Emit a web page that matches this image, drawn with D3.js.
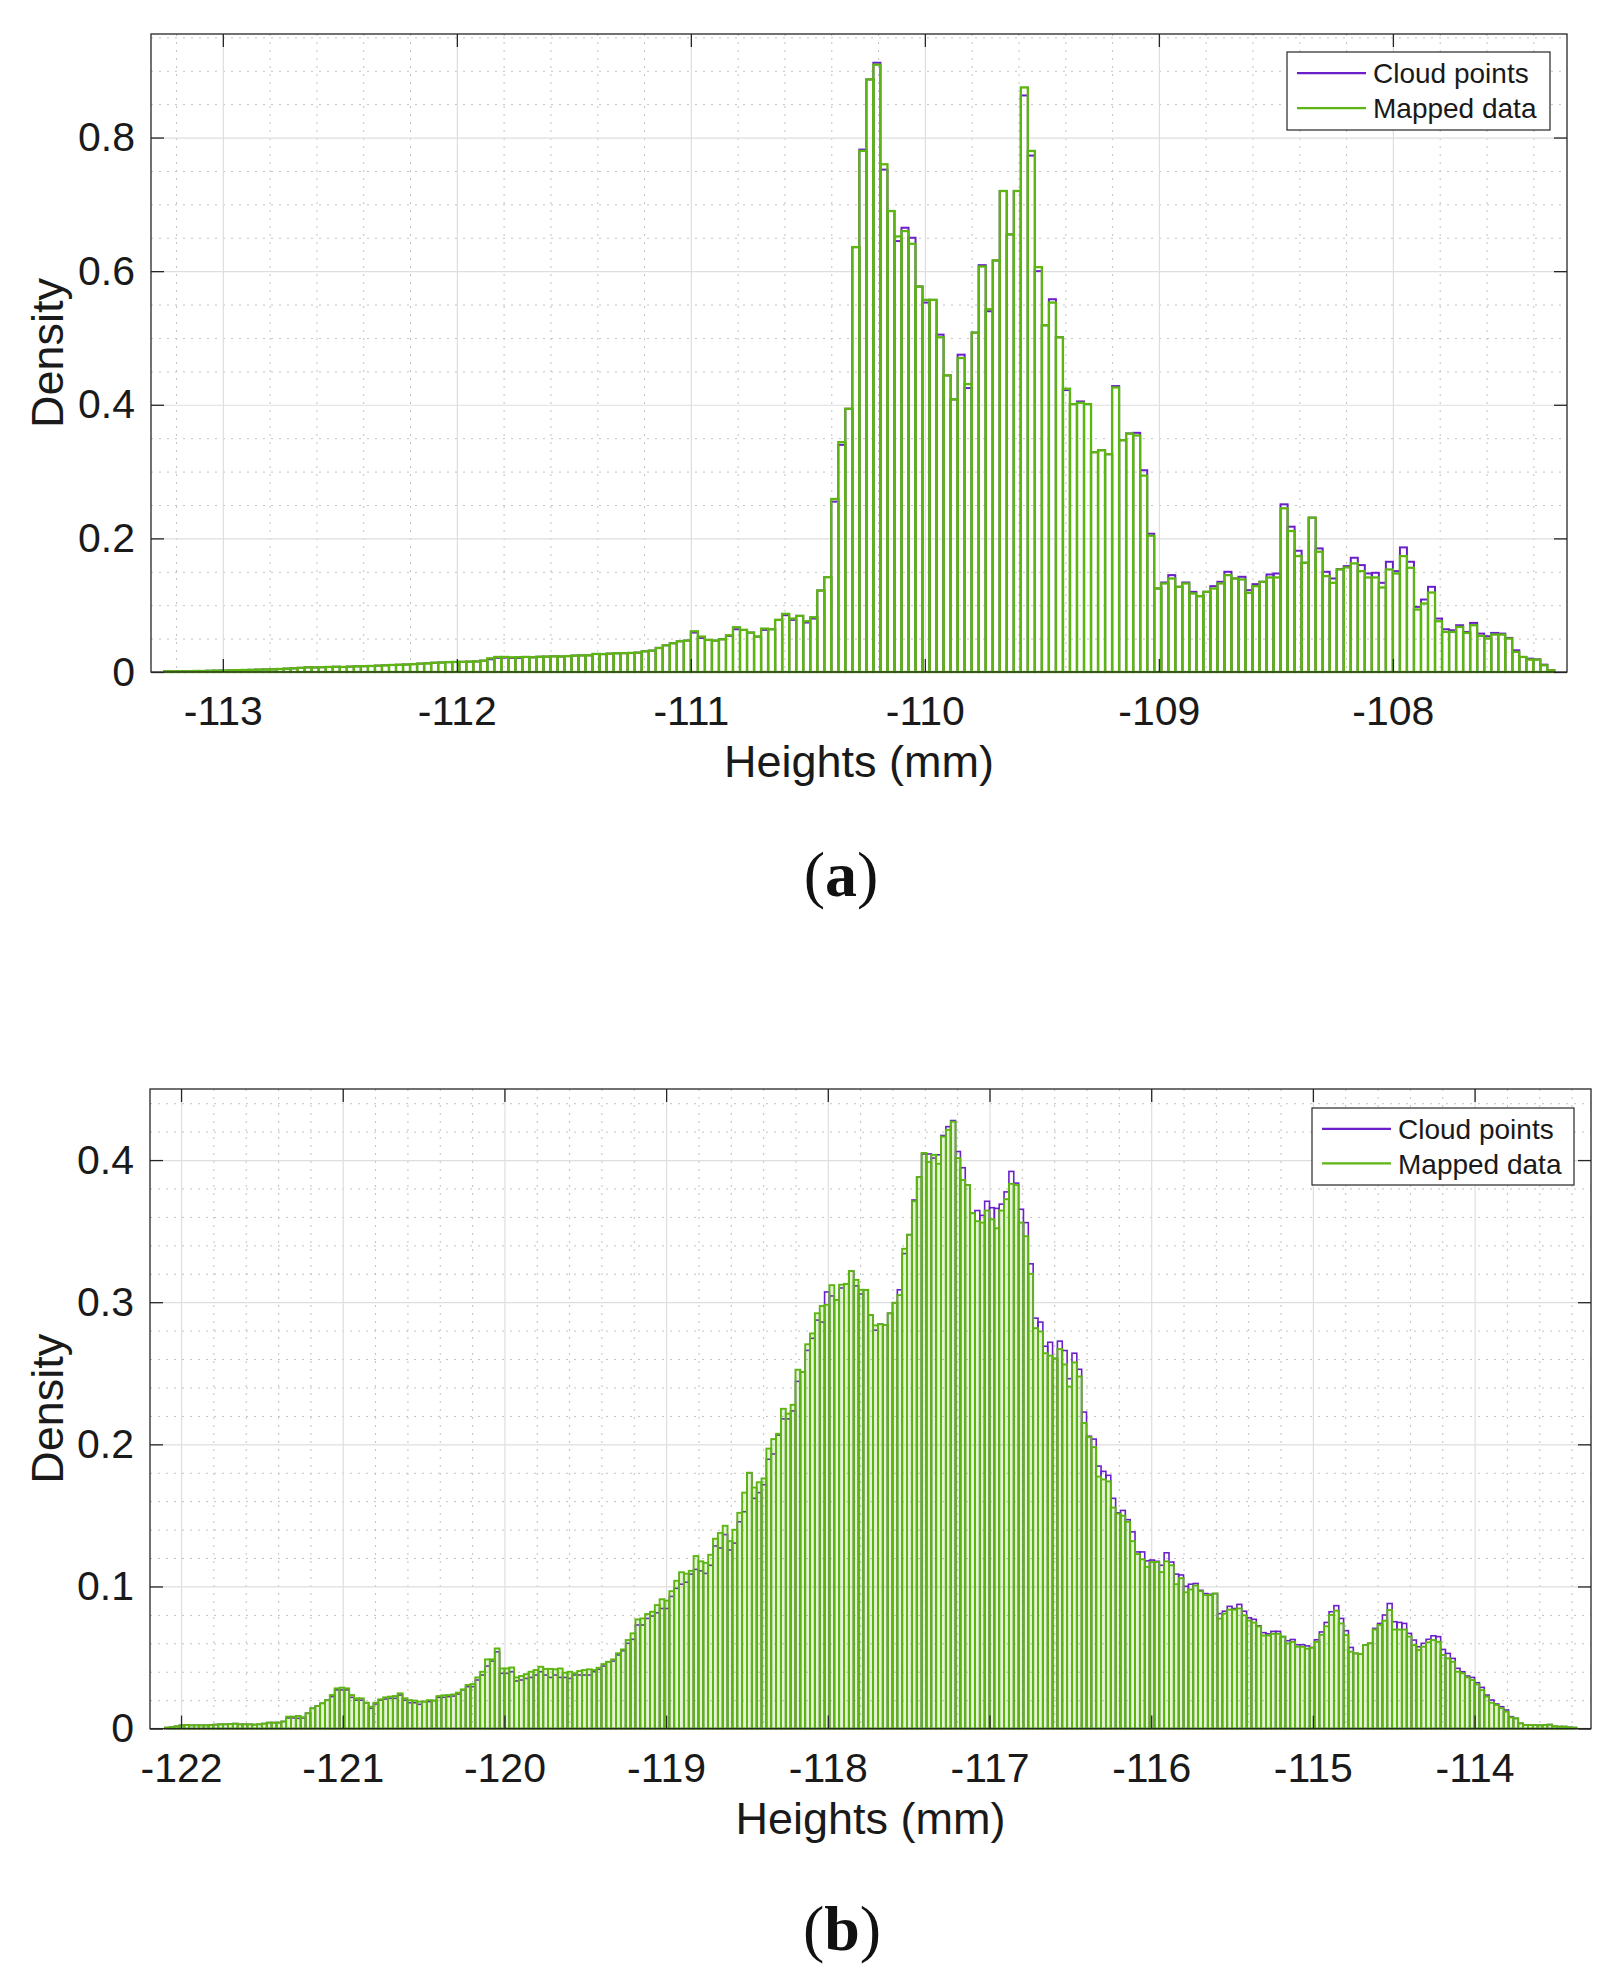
<!DOCTYPE html>
<html>
<head>
<meta charset="utf-8">
<script src="https://cdnjs.cloudflare.com/ajax/libs/d3/7.8.5/d3.min.js"></script>
<style>
    body { margin: 0; background: #fff; }
    svg text { font-family: "Liberation Sans", Arial, Helvetica, sans-serif; fill: #1a1a1a; }
    svg text.caption { font-family: "Liberation Serif", "DejaVu Serif", serif; fill: #111; }
</style>
</head>
<body>
<script>
// ---- panel (a): histogram bins start at -113.25, width 0.03
var aBinStart = -113.25, aBinWidth = 0.03;

var aCloudPoints = [
    0.001, 0.001, 0.0012, 0.0012, 0.0015, 0.0015, 0.0018, 0.002, 0.002, 0.0025,
    0.0028, 0.003, 0.0032, 0.0035, 0.0038, 0.004, 0.0045, 0.005, 0.0055, 0.0062,
    0.007, 0.0068, 0.0072, 0.0075, 0.0078, 0.0075, 0.008, 0.0085, 0.0088, 0.009,
    0.0095, 0.01, 0.0105, 0.0108, 0.0112, 0.0118, 0.0125, 0.013, 0.0138, 0.0142,
    0.0148, 0.015, 0.0152, 0.0155, 0.0158, 0.017, 0.019, 0.0212, 0.0215, 0.021,
    0.021, 0.0225, 0.022, 0.0228, 0.023, 0.0235, 0.0232, 0.0238, 0.0245, 0.0248,
    0.025, 0.027, 0.0268, 0.0275, 0.028, 0.0282, 0.0285, 0.029, 0.031, 0.032,
    0.036, 0.04, 0.043, 0.046, 0.047, 0.059, 0.051, 0.048, 0.047, 0.049,
    0.054, 0.064, 0.063, 0.059, 0.053, 0.063, 0.064, 0.078, 0.085, 0.078,
    0.084, 0.074, 0.080, 0.122, 0.142, 0.255, 0.340, 0.394, 0.636, 0.782,
    0.887, 0.912, 0.752, 0.690, 0.645, 0.665, 0.650, 0.577, 0.553, 0.557,
    0.505, 0.444, 0.408, 0.475, 0.425, 0.508, 0.609, 0.540, 0.616, 0.720,
    0.655, 0.720, 0.863, 0.773, 0.600, 0.519, 0.558, 0.501, 0.422, 0.401,
    0.405, 0.401, 0.329, 0.332, 0.326, 0.428, 0.347, 0.357, 0.358, 0.302,
    0.207, 0.125, 0.134, 0.145, 0.1275, 0.134, 0.120, 0.1135, 0.120, 0.1285,
    0.135, 0.150, 0.140, 0.1425, 0.1225, 0.1315, 0.135, 0.146, 0.1475, 0.251,
    0.2175, 0.1815, 0.1635, 0.231, 0.185, 0.150, 0.140, 0.154, 0.1585, 0.171,
    0.160, 0.1475, 0.1485, 0.1335, 0.165, 0.151, 0.1865, 0.165, 0.0975, 0.1085,
    0.1275, 0.080, 0.064, 0.0625, 0.070, 0.060, 0.0735, 0.0575, 0.0535, 0.0585,
    0.0575, 0.051, 0.0325, 0.0225, 0.020, 0.019, 0.011, 0.0025
];

var aMappedData = [
    0.001, 0.001, 0.0012, 0.0012, 0.0015, 0.0015, 0.0018, 0.002, 0.002, 0.0025,
    0.0028, 0.003, 0.0032, 0.0035, 0.0038, 0.004, 0.0045, 0.005, 0.0055, 0.0062,
    0.007, 0.0068, 0.0072, 0.0075, 0.0078, 0.0075, 0.008, 0.0085, 0.0088, 0.009,
    0.0095, 0.01, 0.0105, 0.0108, 0.0112, 0.0118, 0.0125, 0.013, 0.0138, 0.0142,
    0.0148, 0.015, 0.0152, 0.0155, 0.0158, 0.017, 0.0205, 0.0225, 0.0225, 0.022,
    0.0222, 0.0225, 0.022, 0.0228, 0.023, 0.0235, 0.0232, 0.0238, 0.0245, 0.0248,
    0.025, 0.027, 0.0268, 0.0275, 0.028, 0.0282, 0.0285, 0.029, 0.031, 0.032,
    0.036, 0.04, 0.043, 0.046, 0.047, 0.061, 0.053, 0.048, 0.047, 0.049,
    0.055, 0.067, 0.063, 0.059, 0.053, 0.065, 0.064, 0.078, 0.087, 0.080,
    0.084, 0.076, 0.082, 0.122, 0.142, 0.259, 0.344, 0.394, 0.636, 0.780,
    0.887, 0.909, 0.760, 0.690, 0.652, 0.660, 0.641, 0.577, 0.557, 0.557,
    0.501, 0.444, 0.408, 0.470, 0.431, 0.508, 0.607, 0.543, 0.616, 0.720,
    0.655, 0.720, 0.875, 0.780, 0.606, 0.519, 0.553, 0.501, 0.424, 0.401,
    0.403, 0.401, 0.329, 0.332, 0.326, 0.426, 0.347, 0.357, 0.354, 0.294,
    0.204, 0.125, 0.1325, 0.140, 0.1275, 0.1325, 0.1175, 0.1135, 0.120, 0.125,
    0.1325, 0.145, 0.140, 0.1385, 0.1185, 0.1285, 0.135, 0.1415, 0.1415, 0.245,
    0.211, 0.1735, 0.1635, 0.231, 0.180, 0.1435, 0.1335, 0.1535, 0.1565, 0.1625,
    0.151, 0.1415, 0.1415, 0.1265, 0.1535, 0.1475, 0.1735, 0.156, 0.0935, 0.1025,
    0.119, 0.076, 0.060, 0.060, 0.0675, 0.0585, 0.070, 0.054, 0.050, 0.056,
    0.056, 0.050, 0.030, 0.0225, 0.0185, 0.0185, 0.010, 0.0025
];

var aXTicks = [-113, -112, -111, -110, -109, -108];
var aYTicks = [0, 0.2, 0.4, 0.6, 0.8];

// ---- panel (b): histogram bins start at -122.10, width 0.03
var bBinStart = -122.10, bBinWidth = 0.03;

var bCloudPoints = [
    0.0007, 0.001, 0.0016, 0.0023, 0.0025, 0.0023, 0.0023, 0.0023, 0.0023, 0.0025,
    0.0028, 0.003, 0.003, 0.0032, 0.0035, 0.003, 0.003, 0.003, 0.0028, 0.003,
    0.0035, 0.0042, 0.0042, 0.0042, 0.005, 0.0075, 0.0075, 0.0072, 0.0075, 0.0108,
    0.0143, 0.0159, 0.0178, 0.020, 0.0225, 0.0272, 0.0272, 0.0272, 0.022, 0.020,
    0.020, 0.0182, 0.0143, 0.0173, 0.020, 0.0208, 0.0213, 0.0213, 0.0236, 0.020,
    0.0182, 0.0182, 0.0171, 0.019, 0.019, 0.0197, 0.022, 0.022, 0.0225, 0.0229,
    0.0243, 0.0272, 0.0295, 0.0295, 0.0342, 0.0377, 0.044, 0.0475, 0.054, 0.0389,
    0.0389, 0.040, 0.0335, 0.0342, 0.0353, 0.036, 0.0377, 0.040, 0.0377, 0.036,
    0.0377, 0.036, 0.036, 0.0353, 0.0377, 0.0377, 0.0377, 0.0377, 0.040, 0.0417,
    0.044, 0.047, 0.0475, 0.0518, 0.0548, 0.060, 0.0628, 0.0729, 0.0729, 0.0775,
    0.0792, 0.0815, 0.0845, 0.0845, 0.093, 0.0987, 0.1016, 0.103, 0.1087, 0.112,
    0.111, 0.1092, 0.1149, 0.1285, 0.1271, 0.1365, 0.1257, 0.1305, 0.1455, 0.1526,
    0.180, 0.162, 0.166, 0.1716, 0.1895, 0.1932, 0.2065, 0.2179, 0.2179, 0.2235,
    0.2443, 0.251, 0.2661, 0.2746, 0.2874, 0.286, 0.3072, 0.3044, 0.3016, 0.31,
    0.3129, 0.322, 0.3115, 0.3058, 0.3087, 0.291, 0.2803, 0.2845, 0.284, 0.2922,
    0.2996, 0.3087, 0.3342, 0.3475, 0.3719, 0.388, 0.4043, 0.4043, 0.4014, 0.4037,
    0.4173, 0.4235, 0.4278, 0.406, 0.3946, 0.3824, 0.3626, 0.3645, 0.3611, 0.371,
    0.3665, 0.366, 0.369, 0.3776, 0.392, 0.3838, 0.3654, 0.356, 0.327, 0.2888,
    0.286, 0.269, 0.2718, 0.2604, 0.2726, 0.266, 0.2462, 0.2641, 0.2528, 0.2227,
    0.2057, 0.2037, 0.1847, 0.181, 0.1782, 0.162, 0.1518, 0.1535, 0.147, 0.1384,
    0.1243, 0.1243, 0.118, 0.1186, 0.1177, 0.1149, 0.1237, 0.1172, 0.1087, 0.1081,
    0.1001, 0.1016, 0.1021, 0.0973, 0.095, 0.0945, 0.095, 0.0809, 0.0826, 0.086,
    0.0845, 0.0874, 0.0826, 0.078, 0.0769, 0.0723, 0.0675, 0.0667, 0.0684, 0.0684,
    0.0647, 0.0618, 0.0627, 0.059, 0.059, 0.0582, 0.057, 0.0625, 0.068, 0.0747,
    0.0822, 0.0865, 0.0775, 0.0689, 0.0571, 0.0529, 0.0525, 0.0588, 0.060, 0.0705,
    0.074, 0.0799, 0.088, 0.0752, 0.0747, 0.074, 0.067, 0.0623, 0.0576, 0.060,
    0.0628, 0.0653, 0.0647, 0.0557, 0.0529, 0.0494, 0.0424, 0.040, 0.037, 0.036,
    0.0323, 0.029, 0.0236, 0.0201, 0.0173, 0.0154, 0.0131, 0.0084, 0.0072, 0.0037,
    0.0025, 0.0025, 0.0025, 0.0023, 0.0025, 0.0028, 0.0016, 0.0014, 0.0014, 0.0009,
    0.0007
];

var bMappedData = [
    0.0007, 0.001, 0.0016, 0.0023, 0.0025, 0.0023, 0.0023, 0.0023, 0.0023, 0.0025,
    0.0028, 0.003, 0.003, 0.0032, 0.0035, 0.003, 0.003, 0.003, 0.0028, 0.003,
    0.0035, 0.0042, 0.0042, 0.0042, 0.005, 0.0084, 0.0084, 0.0089, 0.008, 0.0108,
    0.0143, 0.0159, 0.0178, 0.020, 0.0236, 0.0283, 0.0288, 0.0283, 0.0236, 0.0213,
    0.0213, 0.0182, 0.0154, 0.0182, 0.0206, 0.022, 0.0225, 0.0229, 0.0248, 0.0213,
    0.020, 0.0197, 0.019, 0.019, 0.020, 0.0197, 0.0229, 0.0234, 0.0236, 0.024,
    0.0253, 0.0276, 0.0307, 0.0313, 0.036, 0.040, 0.0487, 0.0487, 0.0564, 0.0423,
    0.0423, 0.043, 0.036, 0.037, 0.0383, 0.040, 0.0412, 0.0435, 0.042, 0.042,
    0.0417, 0.0423, 0.0393, 0.040, 0.0389, 0.0405, 0.0412, 0.0417, 0.0412, 0.0428,
    0.0454, 0.047, 0.0487, 0.053, 0.0557, 0.0623, 0.067, 0.0768, 0.0775, 0.0806,
    0.0822, 0.0869, 0.091, 0.090, 0.0967, 0.104, 0.110, 0.109, 0.111, 0.1214,
    0.1177, 0.1166, 0.1223, 0.1336, 0.1376, 0.1427, 0.1319, 0.1399, 0.1518, 0.166,
    0.180, 0.1696, 0.1733, 0.176, 0.197, 0.2037, 0.2074, 0.225, 0.2216, 0.2278,
    0.2525, 0.251, 0.2704, 0.278, 0.2922, 0.2973, 0.2982, 0.312, 0.3016, 0.3123,
    0.3129, 0.322, 0.3157, 0.3087, 0.3087, 0.291, 0.2837, 0.2845, 0.284, 0.2922,
    0.2996, 0.305, 0.3376, 0.3475, 0.371, 0.388, 0.405, 0.3986, 0.4037, 0.3974,
    0.4165, 0.4213, 0.427, 0.4014, 0.386, 0.3824, 0.3626, 0.357, 0.356, 0.3645,
    0.3583, 0.352, 0.3645, 0.3725, 0.3833, 0.3824, 0.356, 0.3464, 0.32, 0.2817,
    0.2794, 0.2641, 0.2624, 0.2604, 0.267, 0.2562, 0.2406, 0.2576, 0.2477, 0.215,
    0.2051, 0.198, 0.1773, 0.1753, 0.1739, 0.1555, 0.1512, 0.1498, 0.1455, 0.1319,
    0.1228, 0.1191, 0.1138, 0.1172, 0.1172, 0.1101, 0.1177, 0.1149, 0.1016, 0.1058,
    0.0959, 0.0979, 0.1007, 0.0967, 0.0939, 0.0939, 0.095, 0.0774, 0.0809, 0.0837,
    0.0837, 0.0845, 0.0797, 0.076, 0.0746, 0.0718, 0.0655, 0.0655, 0.0667, 0.0667,
    0.0647, 0.0599, 0.061, 0.0576, 0.0576, 0.0562, 0.057, 0.061, 0.066, 0.072,
    0.080, 0.083, 0.074, 0.0658, 0.0541, 0.0529, 0.0525, 0.0588, 0.060, 0.0697,
    0.0729, 0.0759, 0.0834, 0.0697, 0.0697, 0.0697, 0.0647, 0.0588, 0.0553, 0.0576,
    0.0607, 0.0623, 0.0611, 0.0518, 0.0494, 0.047, 0.040, 0.0389, 0.036, 0.0342,
    0.0311, 0.0271, 0.0225, 0.0182, 0.0166, 0.0143, 0.0119, 0.0079, 0.0072, 0.0037,
    0.0025, 0.0025, 0.0025, 0.0023, 0.0025, 0.0028, 0.0016, 0.0014, 0.0014, 0.0009,
    0.0007
];

var bXTicks = [-122, -121, -120, -119, -118, -117, -116, -115, -114];
var bYTicks = [0, 0.1, 0.2, 0.3, 0.4];

var seriesNames = ["Cloud points", "Mapped data"];
var seriesColors = ["#6a1fc9", "#5db512"];


var svg = d3.select("body")
    .append("svg")
    .attr("width", 1614)
    .attr("height", 1981);

function drawPanel(p) {
    var x = d3.scaleLinear().domain(p.xDomain).range([p.left, p.right]);
    var y = d3.scaleLinear().domain(p.yDomain).range([p.bottom, p.top]);
    var w = p.right - p.left, h = p.bottom - p.top;
    var g = svg.append("g");

    // minor grid, skipping the places where a major line sits
    var xMinor = d3.range(Math.ceil(p.xDomain[0] / p.xMinorStep), Math.floor(p.xDomain[1] / p.xMinorStep) + 1)
        .map(function (i) { return i * p.xMinorStep; })
        .filter(function (v) { return Math.abs(v - Math.round(v)) > 1e-6; });
    var yMinor = d3.range(1, Math.floor(p.yDomain[1] / p.yMinorStep + 1e-6) + 1)
        .map(function (i) { return i * p.yMinorStep; })
        .filter(function (v) { return Math.abs(v / p.yMajorStep - Math.round(v / p.yMajorStep)) > 1e-6; });

    var minorX = g.append("g")
        .attr("class", "gridlines")
        .attr("transform", "translate(0," + p.top + ")")
        .call(d3.axisTop(x).tickValues(xMinor).tickFormat("").tickSize(-h));
    var minorY = g.append("g")
        .attr("class", "gridlines")
        .attr("transform", "translate(" + p.left + ",0)")
        .call(d3.axisLeft(y).tickValues(yMinor).tickFormat("").tickSize(-w));
    [minorX, minorY].forEach(function (s) {
        s.select(".domain").remove();
        s.selectAll("line")
            .attr("stroke", "#c2c2c2")
            .attr("stroke-width", 1)
            .attr("stroke-dasharray", "2,6");
    });

    var majorX = g.append("g")
        .attr("transform", "translate(0," + p.top + ")")
        .call(d3.axisTop(x).tickValues(p.xTicks).tickFormat("").tickSize(-h));
    var majorY = g.append("g")
        .attr("transform", "translate(" + p.left + ",0)")
        .call(d3.axisLeft(y).tickValues(p.yTicks.slice(1)).tickFormat("").tickSize(-w));
    [majorX, majorY].forEach(function (s) {
        s.select(".domain").remove();
        s.selectAll("line")
            .attr("stroke", "#dedede")
            .attr("stroke-width", 1.2);
    });

    // histogram outlines, cloud points first, mapped data on top
    p.series.forEach(function (vals, si) {
        g.append("g")
            .selectAll("rect")
            .data(vals)
            .enter().append("rect")
            .attr("x", function (d, i) { return x(p.binStart + i * p.binWidth); })
            .attr("width", function (d, i) {
                return x(p.binStart + (i + 1) * p.binWidth) - x(p.binStart + i * p.binWidth);
            })
            .attr("y", function (d) { return y(d); })
            .attr("height", function (d) { return y(0) - y(d); })
            .attr("fill", si === 1 ? p.barFill : "none")
            .attr("stroke", seriesColors[si])
            .attr("stroke-width", si === 1 ? p.lineWidth : p.lineWidth - 0.3);
    });

    // axes with inward ticks on all four sides
    var tickLen = 13;
    var bottom = g.append("g")
        .attr("transform", "translate(0," + p.bottom + ")")
        .call(d3.axisBottom(x).tickValues(p.xTicks).tickSize(-tickLen).tickPadding(24)
            .tickFormat(function (d) { return String(d); }));
    var top = g.append("g")
        .attr("transform", "translate(0," + p.top + ")")
        .call(d3.axisTop(x).tickValues(p.xTicks).tickSize(-tickLen).tickFormat(""));
    var left = g.append("g")
        .attr("transform", "translate(" + p.left + ",0)")
        .call(d3.axisLeft(y).tickValues(p.yTicks).tickSize(-tickLen).tickPadding(16)
            .tickFormat(function (d) { return String(d); }));
    var right = g.append("g")
        .attr("transform", "translate(" + p.right + ",0)")
        .call(d3.axisRight(y).tickValues(p.yTicks).tickSize(-tickLen).tickFormat(""));
    [bottom, top, left, right].forEach(function (s) {
        s.select(".domain").remove();
        s.selectAll("line").attr("stroke", "#262626").attr("stroke-width", 1.3);
        s.selectAll("text")
            .attr("fill", "#1a1a1a")
            .style("font-size", "41px")
            .style("font-family", "'Liberation Sans', Arial, sans-serif");
    });

    g.append("rect")
        .attr("x", p.left)
        .attr("y", p.top)
        .attr("width", w)
        .attr("height", h)
        .attr("fill", "none")
        .attr("stroke", "#262626")
        .attr("stroke-width", 1.3);

    g.append("text")
        .attr("x", (p.left + p.right) / 2)
        .attr("y", p.bottom + 105)
        .attr("text-anchor", "middle")
        .style("font-size", "45px")
        .text("Heights (mm)");

    g.append("text")
        .attr("transform", "translate(63," + ((p.top + p.bottom) / 2) + ") rotate(-90)")
        .attr("text-anchor", "middle")
        .style("font-size", "45px")
        .text("Density");

    // legend
    var lg = g.append("g").attr("transform", "translate(" + p.legend[0] + "," + p.legend[1] + ")");
    lg.append("rect")
        .attr("width", p.legend[2])
        .attr("height", p.legend[3])
        .attr("fill", "#fff")
        .attr("stroke", "#262626")
        .attr("stroke-width", 1.2);
    seriesNames.forEach(function (name, si) {
        var ly = p.legend[3] * (si === 0 ? 0.27 : 0.72);
        lg.append("line")
            .attr("x1", 10).attr("x2", 79)
            .attr("y1", ly).attr("y2", ly)
            .attr("stroke", seriesColors[si])
            .attr("stroke-width", 2.2);
        lg.append("text")
            .attr("x", 86)
            .attr("y", ly)
            .attr("dy", "0.36em")
            .style("font-size", "28px")
            .text(name);
    });

    var cap = svg.append("text")
        .attr("class", "caption")
        .attr("x", p.caption[0])
        .attr("y", p.caption[1])
        .attr("text-anchor", "middle")
        .style("font-size", "64px");
    cap.append("tspan").text("(");
    cap.append("tspan").style("font-weight", "bold").text(p.captionLetter);
    cap.append("tspan").text(")");
}

drawPanel({
    left: 151, right: 1567, top: 34, bottom: 672,
    xDomain: [-113.307, -107.256], yDomain: [0, 0.955],
    xTicks: aXTicks, yTicks: aYTicks,
    xMinorStep: 0.2, yMinorStep: 0.05, yMajorStep: 0.2,
    binStart: aBinStart, binWidth: aBinWidth,
    series: [aCloudPoints, aMappedData],
    barFill: "none", lineWidth: 2.3,
    legend: [1287, 52, 263, 78],
    caption: [841, 896], captionLetter: "a"
});

drawPanel({
    left: 150, right: 1591, top: 1089, bottom: 1728.6,
    xDomain: [-122.192, -113.28], yDomain: [0, 0.45],
    xTicks: bXTicks, yTicks: bYTicks,
    xMinorStep: 0.2, yMinorStep: 0.02, yMajorStep: 0.1,
    binStart: bBinStart, binWidth: bBinWidth,
    series: [bCloudPoints, bMappedData],
    barFill: "rgba(93,181,18,0.16)", lineWidth: 1.9,
    legend: [1312, 1108, 262, 77],
    caption: [842, 1950], captionLetter: "b"
});
</script>
</body>
</html>
